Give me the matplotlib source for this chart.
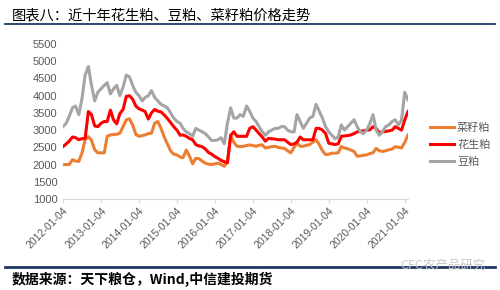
import pandas as pd
import matplotlib.pyplot as plt
from matplotlib.lines import Line2D

plt.rcParams['font.family'] = ['Liberation Sans', 'Noto Sans CJK SC', 'DejaVu Sans']

# 月度日期（每月4日）
dates = pd.date_range('2012-01-01', '2021-02-01', freq='MS') + pd.Timedelta(days=3)
tick_labels = ['2012-01-04', '2013-01-04', '2014-01-04', '2015-01-04', '2016-01-04',
               '2017-01-04', '2018-01-04', '2019-01-04', '2020-01-04', '2021-01-04']

# 菜籽粕
rapeseed = [
    1995, 2000, 2000, 2140, 2100, 2090, 2330, 2720, 2810, 2700, 2430, 2340,
    2340, 2340, 2820, 2860, 2870, 2880, 2910, 3100, 3300, 3330, 3150, 2880,
    2820, 2840, 2860, 2900, 2910, 3200, 3250, 3050, 2800, 2600, 2400, 2300,
    2280, 2220, 2200, 2420, 2250, 2020, 2180, 2170, 2100, 2040, 2010, 2000,
    2020, 2040, 2000, 1950, 2080, 2850, 2650, 2530, 2520, 2530, 2550, 2570,
    2550, 2530, 2560, 2570, 2480, 2500, 2520, 2530, 2500, 2480, 2470, 2400,
    2340, 2500, 2620, 2530, 2530, 2560, 2580, 2650, 2720, 2580, 2400, 2290,
    2300, 2330, 2330, 2340, 2520, 2480, 2460, 2420, 2380, 2240, 2250, 2270,
    2280, 2320, 2340, 2470, 2400, 2380, 2400, 2430, 2450, 2520, 2500, 2480,
    2650, 2860,
]
# 花生粕
peanut = [
    2520, 2600, 2680, 2800, 2780, 2720, 2750, 2760, 3540, 3450, 3120, 3100,
    3200, 3250, 3250, 3580, 3300, 3180, 3480, 3600, 3980, 4000, 3900, 3700,
    3620, 3580, 3540, 3320, 3500, 3600, 3550, 3530, 3440, 3340, 3220, 3100,
    3000, 2850, 2860, 2820, 2760, 2720, 2580, 2540, 2520, 2450, 2350, 2300,
    2230, 2180, 2120, 2080, 2050, 2850, 2950, 2820, 2820, 2820, 2820, 3050,
    3100, 3000, 2900, 2800, 2680, 2760, 2750, 2740, 2720, 2720, 2720, 2650,
    2580, 2600, 2650, 2800, 2720, 2720, 2720, 2720, 3050, 3050, 3000, 2900,
    2620, 2600, 2580, 2600, 2820, 2830, 2840, 2860, 2900, 2950, 2960, 2980,
    3000, 3010, 3100, 3050, 2920, 2950, 2960, 2980, 3000, 3100, 3050, 3000,
    3300, 3540,
]
# 豆粕
soybean = [
    3100, 3200, 3400, 3650, 3700, 3450, 3900, 4600, 4850, 4300, 3850, 4100,
    4200, 4300, 4380, 4050, 4200, 4300, 4000, 4250, 4600, 4550, 4300, 4100,
    4000, 3850, 3950, 4000, 4150, 3950, 3850, 3750, 3700, 3650, 3500, 3350,
    3250, 3200, 3050, 2950, 2900, 2820, 3050, 3000, 2950, 2900, 2800, 2700,
    2700, 2720, 2780, 2600, 3200, 3650, 3350, 3350, 3450, 3400, 3700, 3550,
    3350, 3250, 3100, 2950, 2850, 2950, 3000, 3050, 3050, 3100, 3100, 3000,
    2950, 2950, 3450, 3250, 3050, 3200, 3350, 3400, 3750, 3550, 3350, 3100,
    2950, 2850, 2750, 2800, 3150, 3000, 3100, 3200, 3300, 3100, 2950, 2900,
    3000, 3200, 3450, 3000, 2850, 2950, 3100, 3150, 3250, 3300, 3150, 3300,
    4100, 3880,
]

fig = plt.figure(figsize=(5, 2.9), dpi=100)
ax = fig.add_axes([0.126, 0.314, 0.69, 0.534])

ax.plot(dates, rapeseed, color='#ED7D31', lw=2.2, label='菜籽粕')
ax.plot(dates, peanut, color='#FF0000', lw=2.2, label='花生粕')
ax.plot(dates, soybean, color='#A5A5A5', lw=2.2, label='豆粕')

ax.set_ylim(1000, 5500)
ax.set_yticks(range(1000, 5501, 500))
ax.set_xlim(dates[0], dates[-1])
ax.set_xticks(pd.to_datetime(tick_labels))
ax.set_xticklabels(tick_labels, rotation=45, ha='right', rotation_mode='anchor')

for s in ['top', 'right', 'left']:
    ax.spines[s].set_visible(False)
ax.spines['bottom'].set_color('#D9D9D9')
ax.tick_params(axis='y', length=0, labelsize=8, labelcolor='#595959', pad=4)
ax.tick_params(axis='x', length=3, color='#D9D9D9', labelsize=7.5, labelcolor='#595959', pad=2)

# 图例放在右侧偏下
leg = ax.legend(loc='center left', bbox_to_anchor=(1.065, 0.35), frameon=False,
                fontsize=8, handlelength=2.1, labelspacing=0.6, handletextpad=0.3,
                borderpad=0, borderaxespad=0)
for t in leg.get_texts():
    t.set_color('#595959')

# 标题与装饰线
fig.text(0.024, 0.948, '图表八：近十年花生粕、豆粕、菜籽粕价格走势', fontsize=10.3,
         family=['Noto Sans CJK SC', 'DejaVu Sans'], va='center')
fig.add_artist(Line2D([0.01, 0.99], [0.917, 0.917], color='#1F3864', lw=1.3))
fig.add_artist(Line2D([0.01, 0.99], [0.078, 0.078], color='#1F3864', lw=2))
fig.text(0.024, 0.038, '数据来源：天下粮仓，Wind,中信建投期货', fontsize=10, fontweight='bold',
         family=['Noto Sans CJK SC', 'DejaVu Sans'], va='center')
fig.text(0.8, 0.085, 'CFC农产品研究', fontsize=9, color='#C8C8C8',
         family=['Noto Sans CJK SC', 'DejaVu Sans'], va='center')

fig.savefig('out.png', dpi=100)
